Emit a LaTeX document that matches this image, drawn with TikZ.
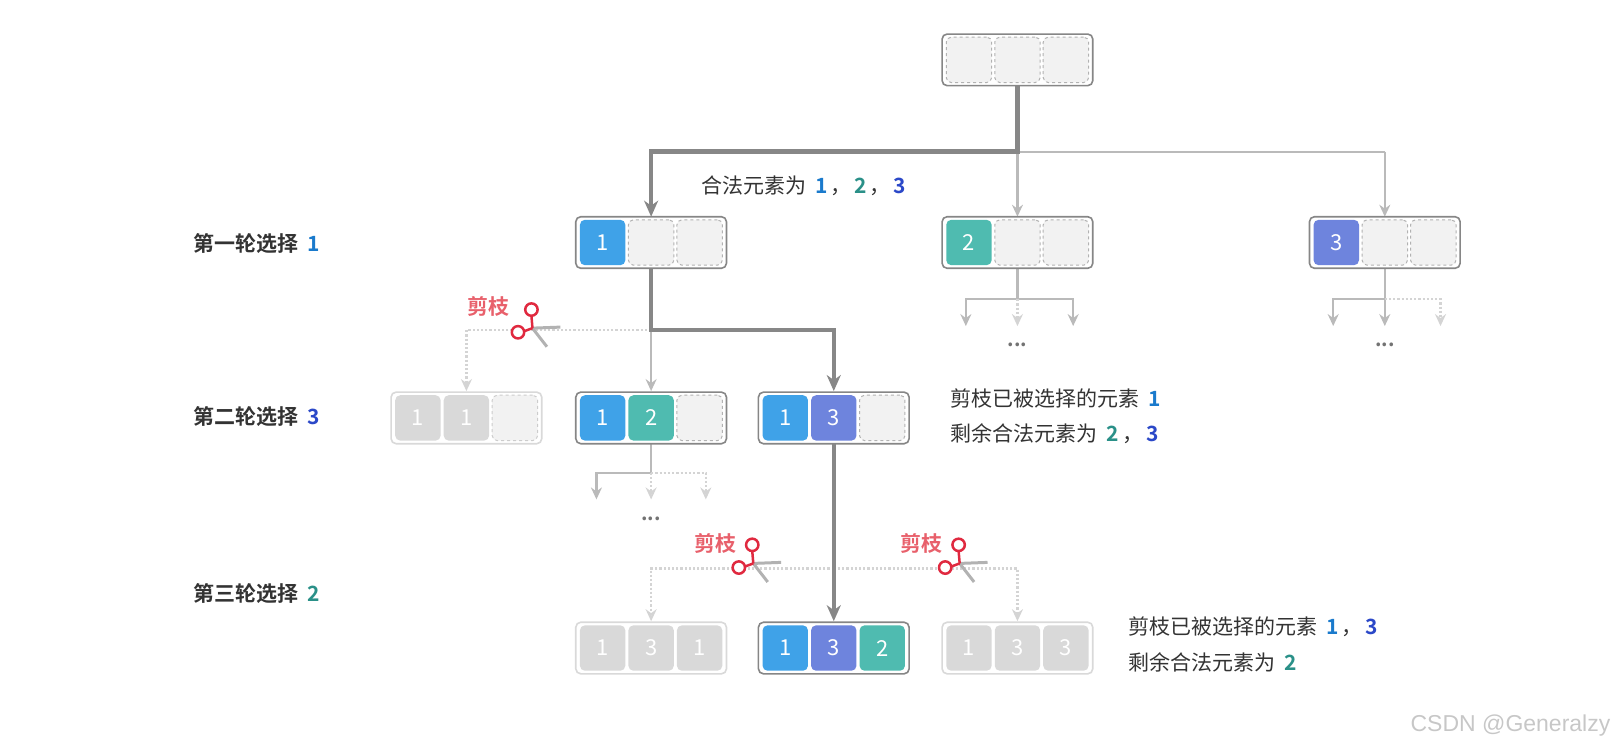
\documentclass[tikz,border=0pt]{standalone}
\usepackage{fontspec}
\setmainfont{Noto Sans CJK SC}[BoldFont={Noto Sans CJK SC Bold}]
\newfontfamily\wm{Liberation Sans}
\usetikzlibrary{arrows.meta,calc}
\definecolor{cb}{HTML}{3FA2E8}
\definecolor{cp}{HTML}{6E84DD}
\definecolor{ct}{HTML}{4FBBB0}
\definecolor{tb}{HTML}{1A7ACC}
\definecolor{tt}{HTML}{2A9088}
\definecolor{tp}{HTML}{2B48C8}
\definecolor{red1}{HTML}{E0293F}
\definecolor{pink}{HTML}{E8606B}
\begin{document}
\begin{tikzpicture}[x=1.032pt,y=-1.032pt,
  box/.style={draw=#1,line width=1.6pt,rounded corners=5pt,minimum width=146*1.032pt,minimum height=50*1.032pt,fill=white,inner sep=0pt},
  box/.default={gray!95},
  cell/.style={rounded corners=5pt,minimum width=44*1.032pt,minimum height=44*1.032pt,inner sep=0pt},
  num/.style={text=white,font=\fontsize{22}{24}\selectfont},
  emp/.style={cell,fill=black!5,draw=black!30,dashed,line width=1pt},
  thick/.style={draw=black!47,line width=4.5pt,-{Stealth[length=16pt,width=14pt,inset=5pt]}},
  thin/.style={draw=black!27,line width=2.2pt,-{Stealth[length=12pt,width=11pt,inset=4pt]}},
  thinn/.style={draw=black!27,line width=2.2pt},
  dot/.style={draw=black!17,line width=2.2pt,dotted,-{Stealth[length=12pt,width=11pt,inset=4pt,open]}},
  lab/.style={font=\bfseries\fontsize{21}{24}\selectfont,text=black!80,anchor=west},
  txt/.style={font=\fontsize{21}{24}\selectfont,text=black!80,anchor=west},
  prune/.style={font=\bfseries\fontsize{21}{24}\selectfont,text=pink},
  dots/.style={font=\bfseries\fontsize{20}{24}\selectfont,text=black!55}]
\useasboundingbox (0,0) rectangle (1568,729);
\newcommand\cells[4]{%
  \node[#2] (#1-1) at ($(#1)+(-47,0)$) {};
  \node[#3] (#1-2) at (#1) {};
  \node[#4] (#1-3) at ($(#1)+(47,0)$) {};}
\newcommand\scis[2]{%
  \begin{scope}[shift={(#1,#2)}]
    \draw[line width=3pt,draw=black!30] (0,0) -- (27,-1);
    \draw[line width=3pt,draw=black!30] (0,0) -- (14,18);
    \draw[line width=2.5pt,red1] (0,0) -- (-1,-12) (0,0) -- (-8,3);
    \draw[line width=2.5pt,red1,fill=white] (-1,-18) circle (6);
    \draw[line width=2.5pt,red1,fill=white] (-14,4) circle (6);
  \end{scope}}
\newcommand\gapsp{\hspace{9pt}}
\newcommand\cm{\hspace{3pt}，\hspace{3pt}}

\coordinate (r) at (986,58);
\coordinate (a) at (631,235);
\coordinate (b) at (986,235);
\coordinate (c) at (1342,235);
\coordinate (d) at (452,405);
\coordinate (e) at (631,405);
\coordinate (f) at (808,405);
\coordinate (g) at (631,628);
\coordinate (h) at (808,628);
\coordinate (k) at (986,628);

\coordinate (r1) at (986,147);
\coordinate (r2) at (631,147);
\coordinate (r3) at (1342,147);
\draw[thin] (r1) -- (986,210);
\draw[thinn] (r1) -- (r3);
\draw[thin] (r3) -- (1342,210);
\draw[thick] (986,83) -- (r1) -- (r2) -- (631,210);

\coordinate (a1) at (631,320);
\draw[dot] (a1) -- (452,320) -- (452,379);
\draw[thin] (a1) -- (631,379);
\draw[thick] (631,260) -- (a1) -- (808,320) -- (808,379);
\coordinate (b1) at (986,290);
\draw[thinn] (986,260) -- (b1);
\draw[thin] (b1) -- (936,290) -- (936,316);
\draw[thin] (b1) -- (1040,290) -- (1040,316);
\draw[dot] (b1) -- (986,316);
\node[dots] (bd) at (986,334) {...};
\coordinate (c1) at (1342,290);
\draw[thinn] (1342,260) -- (c1);
\draw[thin] (c1) -- (1292,290) -- (1292,316);
\draw[thin] (c1) -- (1342,316);
\draw[dot] (c1) -- (1396,290) -- (1396,316);
\node[dots] (cd) at (1342,334) {...};
\coordinate (e1) at (631,458);
\draw[thinn] (631,430) -- (e1);
\draw[thin] (e1) -- (578,458) -- (578,484);
\draw[dot] (e1) -- (631,484);
\draw[dot] (e1) -- (684,458) -- (684,484);
\node[dots] (ed) at (631,503) {...};
\coordinate (f1) at (808,551);
\draw[dot] (f1) -- (631,551) -- (631,602);
\draw[dot] (f1) -- (986,551) -- (986,602);
\draw[thick] (808,430) -- (808,602);

\node[box] (R) at (r) {}; \cells{r}{emp}{emp}{emp}
\node[box] (A) at (a) {}; \cells{a}{cell,fill=cb,label={[num]center:1}}{emp}{emp}
\node[box] (B) at (b) {}; \cells{b}{cell,fill=ct,label={[num]center:2}}{emp}{emp}
\node[box] (C) at (c) {}; \cells{c}{cell,fill=cp,label={[num]center:3}}{emp}{emp}
\node[box=black!15] (D) at (d) {}; \cells{d}{cell,fill=black!15,label={[num]center:1}}{cell,fill=black!15,label={[num]center:1}}{emp,draw=black!20}
\node[box] (E) at (e) {}; \cells{e}{cell,fill=cb,label={[num]center:1}}{cell,fill=ct,label={[num]center:2}}{emp}
\node[box] (F) at (f) {}; \cells{f}{cell,fill=cb,label={[num]center:1}}{cell,fill=cp,label={[num]center:3}}{emp}
\node[box=black!15] (G) at (g) {}; \cells{g}{cell,fill=black!15,label={[num]center:1}}{cell,fill=black!15,label={[num]center:3}}{cell,fill=black!15,label={[num]center:1}}
\node[box] (H) at (h) {}; \cells{h}{cell,fill=cb,label={[num]center:1}}{cell,fill=cp,label={[num]center:3}}{cell,fill=ct,label={[num]center:2}}
\node[box=black!15] (K) at (k) {}; \cells{k}{cell,fill=black!15,label={[num]center:1}}{cell,fill=black!15,label={[num]center:3}}{cell,fill=black!15,label={[num]center:3}}

\scis{516}{318}
\scis{730}{546}
\scis{930}{546}
\node[prune] (p1) at (473,297) {剪枝};
\node[prune] (p2) at (693,527) {剪枝};
\node[prune] (p3) at (893,527) {剪枝};

\node[txt] (t0) at (676,180) {合法元素为\gapsp\textbf{\textcolor{tb}{1}}\cm\textbf{\textcolor{tt}{2}}\cm\textbf{\textcolor{tp}{3}}};
\node[lab] (l1) at (184,236) {第一轮选择\gapsp\textcolor{tb}{1}};
\node[lab] (l2) at (184,404) {第二轮选择\gapsp\textcolor{tp}{3}};
\node[lab] (l3) at (184,575) {第三轮选择\gapsp\textcolor{tt}{2}};
\node[txt] (t1) at (918,386) {剪枝已被选择的元素\gapsp\textbf{\textcolor{tb}{1}}};
\node[txt] (t2) at (918,420) {剩余合法元素为\gapsp\textbf{\textcolor{tt}{2}}\cm\textbf{\textcolor{tp}{3}}};
\node[txt] (t3) at (1090,607) {剪枝已被选择的元素\gapsp\textbf{\textcolor{tb}{1}}\cm\textbf{\textcolor{tp}{3}}};
\node[txt] (t4) at (1090,642) {剩余合法元素为\gapsp\textbf{\textcolor{tt}{2}}};
\node[anchor=east,font=\wm\fontsize{23}{26}\selectfont,text=black!22] (wm) at (1564,703) {CSDN @Generalzy};
\end{tikzpicture}
\end{document}
